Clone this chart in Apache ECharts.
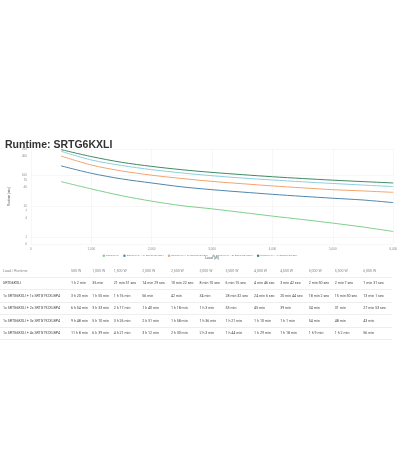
<!DOCTYPE html><html><head><meta charset="utf-8">
<script src="https://cdn.jsdelivr.net/npm/echarts@6/dist/echarts.min.js"></script>
<style>
body{margin:0;background:#fff;font-family:Roboto,Arial,sans-serif}
#c{position:absolute;left:0;top:132px;width:400px;height:134px}
#t{position:absolute;left:0;top:265px;width:392px;border-collapse:collapse;font-size:3.6px;color:#444}
#t td{height:11.5px;border-bottom:0.5px solid #eee;padding:0;white-space:nowrap}
#t td:first-child{padding-left:3px;width:68px}
#t tr:first-child td{color:#888}
</style></head><body>
<div id="c"></div><table id="t"></table>
<script>
const loads=[500,1000,1500,2000,2500,3000,3500,4000,4500,5000,5500,6000];
const loadLabels=['500 W','1,000 W','1,500 W','2,000 W','2,500 W','3,000 W','3,500 W','4,000 W','4,500 W','5,000 W','5,500 W','6,000 W'];
const names=['SRTG6KXLI','SRTG6KXLI + 1x SRTG192XLBP4','SRTG6KXLI + 2x SRTG192XLBP4','SRTG6KXLI + 3x SRTG192XLBP4','SRTG6KXLI + 4x SRTG192XLBP4'];
const rowNames=['SRTG6KXLI','1x SRTG6KXLI + 1x SRTG192XLBP4','1x SRTG6KXLI + 2x SRTG192XLBP4','1x SRTG6KXLI + 3x SRTG192XLBP4','1x SRTG6KXLI + 4x SRTG192XLBP4'];
const s0=[62,36,21.85,14.48,10.37,8.17,6.25,4.77,3.7,2.83,2.12,1.52];
const s1=[200,115,76,56,42,34,28.5,24.1,20.7,18.03,15.8,13.02];
const s2=[414,213,137,100,78,63,53,45,39,34,31,27.9];
const s3=[588,310,206,151,118,96,81,70,61,54,48,43];
const s4=[668,399,261,192,150,123,104,89,78,69,62,56];
const txt0=['1 h 2 min','36 min','21 min 51 sec','14 min 29 sec','10 min 22 sec','8 min 10 sec','6 min 15 sec','4 min 46 sec','3 min 42 sec','2 min 50 sec','2 min 7 sec','1 min 31 sec'];
const txt1=['3 h 20 min','1 h 55 min','1 h 16 min','56 min','42 min','34 min','28 min 32 sec','24 min 6 sec','20 min 44 sec','18 min 2 sec','15 min 50 sec','13 min 1 sec'];
const txt2=['6 h 54 min','3 h 33 min','2 h 17 min','1 h 40 min','1 h 18 min','1 h 3 min','53 min','45 min','39 min','34 min','31 min','27 min 53 sec'];
const txt3=['9 h 48 min','5 h 10 min','3 h 26 min','2 h 31 min','1 h 58 min','1 h 36 min','1 h 21 min','1 h 10 min','1 h 1 min','54 min','48 min','43 min'];
const txt4=['11 h 8 min','6 h 39 min','4 h 21 min','3 h 12 min','2 h 30 min','2 h 3 min','1 h 44 min','1 h 29 min','1 h 18 min','1 h 9 min','1 h 2 min','56 min'];
const yTicks=[0.6,1,4,7,10,40,70,100,400,700];
const colors=['#7fcf8a','#4f86ad','#f2a46b','#8ccfe0','#3f8a62'];
const series=[s0,s1,s2,s3,s4];
const c=echarts.init(document.getElementById('c'));
c.setOption({
 title:{text:'Runtime: SRTG6KXLI',left:0,top:3,textStyle:{fontSize:10.5,fontWeight:'bold',color:'#333',fontFamily:'Arial'}},
 color:colors,animation:false,
 grid:{left:14,right:5,top:17,bottom:22,containLabel:false},
 legend:{bottom:4,itemWidth:2.5,itemHeight:2.5,itemGap:4,icon:'circle',textStyle:{fontSize:2.4,color:'#777',padding:[0,0,0,-4]},data:names},
 xAxis:{type:'value',min:0,max:6000,interval:1000,name:'Load (W)',nameLocation:'middle',nameGap:8,nameTextStyle:{fontSize:3.5,color:'#555'},
  axisLine:{show:false},axisTick:{show:false},axisLabel:{fontSize:3,color:'#888',margin:4,formatter:v=>v.toLocaleString('en-US')},
  splitLine:{lineStyle:{color:'#eee',width:0.5}}},
 yAxis:{type:'log',min:0.6,max:700,name:'Runtime (min)',nameLocation:'middle',nameGap:9,nameTextStyle:{fontSize:3,color:'#555'},
  axisLine:{show:false},axisTick:{show:false},
  axisLabel:{fontSize:3,color:'#888',margin:4,customValues:yTicks,formatter:v=>v<1?'0':String(Math.round(v))},
  splitLine:{lineStyle:{color:'#eee',width:0.5}}},
 series:series.map((s,i)=>({name:names[i],type:'line',smooth:0.3,symbol:'none',lineStyle:{width:1},data:s.map((v,j)=>[loads[j],v])}))
});
const texts=[txt0,txt1,txt2,txt3,txt4];
let h='<tr><td>Load / Runtime</td>'+loadLabels.map(l=>'<td>'+l+'</td>').join('')+'</tr>';
rowNames.forEach((n,i)=>{h+='<tr><td>'+n+'</td>'+texts[i].map(t=>'<td>'+t+'</td>').join('')+'</tr>';});
document.getElementById('t').innerHTML=h;
</script></body></html>
